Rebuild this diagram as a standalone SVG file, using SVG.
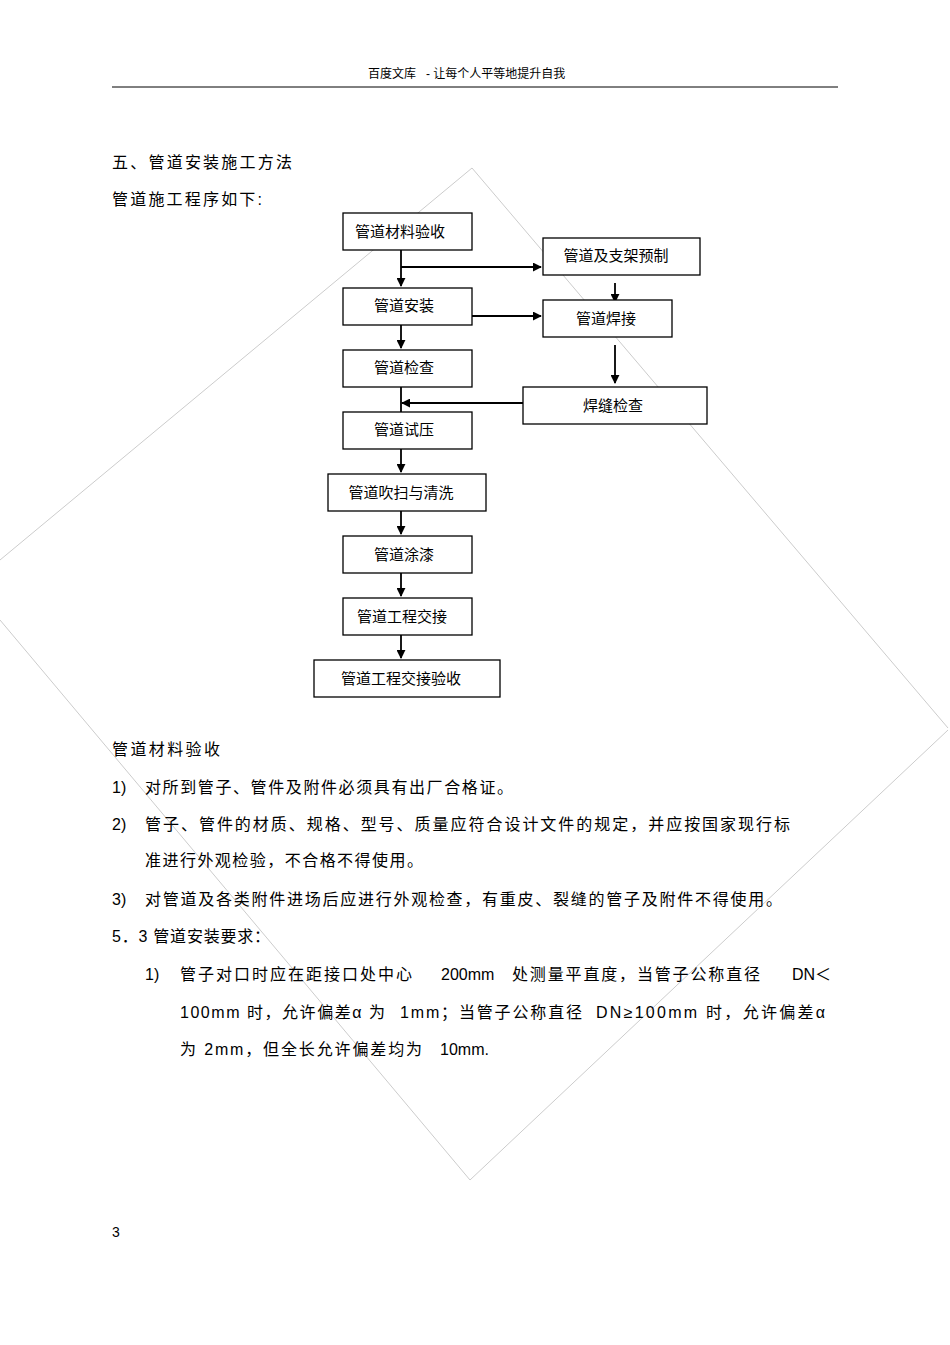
<svg xmlns="http://www.w3.org/2000/svg" width="950" height="1345" viewBox="0 0 950 1345">
<style>
.t{font-family:"Liberation Sans","Noto Sans CJK SC",sans-serif;fill:#000}
.b{font-size:15px}
.p{font-size:16px}
rect{fill:#fff;stroke:#000;stroke-width:1.3}
.c line{stroke:#000;stroke-width:1.8}
</style>
<defs><marker id="a" viewBox="0 0 10 10" refX="9" refY="5" markerWidth="5" markerHeight="5" orient="auto"><path d="M0,0L10,5L0,10z" fill="#000"/></marker></defs>
<rect width="950" height="1345" style="fill:#fff;stroke:none"/>
<g fill="none" stroke="#ccc" stroke-width="1">
<polyline points="0,560 472,168 948,728"/>
<polyline points="0,620 470,1180 948,730"/>
</g>
<text class="t" x="368" y="78" font-size="12" fill="#444">百度文库</text>
<text class="t" x="426" y="78" font-size="12" fill="#444">- 让每个人平等地提升自我</text>
<line x1="112" y1="87" x2="838" y2="87" stroke="#000" stroke-width="1"/>
<text class="t p" x="112" y="168" textLength="180" lengthAdjust="spacing">五、管道安装施工方法</text>
<text class="t p" x="112" y="205" textLength="150" lengthAdjust="spacing">管道施工程序如下:</text>
<g class="c">
<line x1="401" y1="250" x2="401" y2="286" marker-end="url(#a)"/>
<line x1="401" y1="267" x2="541" y2="267" marker-end="url(#a)"/>
<line x1="472" y1="316" x2="541" y2="316" marker-end="url(#a)"/>
<line x1="615" y1="283" x2="615" y2="302" marker-end="url(#a)"/>
<line x1="401" y1="325" x2="401" y2="348" marker-end="url(#a)"/>
<line x1="615" y1="345" x2="615" y2="383" marker-end="url(#a)"/>
<line x1="401" y1="387" x2="401" y2="412"/>
<line x1="523" y1="403" x2="402" y2="403" marker-end="url(#a)"/>
<line x1="401" y1="449" x2="401" y2="472" marker-end="url(#a)"/>
<line x1="401" y1="511" x2="401" y2="534" marker-end="url(#a)"/>
<line x1="401" y1="573" x2="401" y2="596" marker-end="url(#a)"/>
<line x1="401" y1="635" x2="401" y2="658" marker-end="url(#a)"/>
</g>
<g id="n1"><rect x="343" y="213" width="129" height="37"/><text class="t b" x="400" y="237" text-anchor="middle">管道材料验收</text></g>
<g id="n2"><rect x="543" y="238" width="157" height="37"/><text class="t b" x="616" y="261" text-anchor="middle">管道及支架预制</text></g>
<g id="n3"><rect x="343" y="288" width="129" height="37"/><text class="t b" x="404" y="311" text-anchor="middle">管道安装</text></g>
<g id="n4"><rect x="543" y="300" width="129" height="37"/><text class="t b" x="606" y="324" text-anchor="middle">管道焊接</text></g>
<g id="n5"><rect x="343" y="350" width="129" height="37"/><text class="t b" x="404" y="373" text-anchor="middle">管道检查</text></g>
<g id="n6"><rect x="523" y="387" width="184" height="37"/><text class="t b" x="613" y="411" text-anchor="middle">焊缝检查</text></g>
<g id="n7"><rect x="343" y="412" width="129" height="37"/><text class="t b" x="404" y="435" text-anchor="middle">管道试压</text></g>
<g id="n8"><rect x="328" y="474" width="158" height="37"/><text class="t b" x="401" y="498" text-anchor="middle">管道吹扫与清洗</text></g>
<g id="n9"><rect x="343" y="536" width="129" height="37"/><text class="t b" x="404" y="560" text-anchor="middle">管道涂漆</text></g>
<g id="n10"><rect x="343" y="598" width="129" height="37"/><text class="t b" x="402" y="622" text-anchor="middle">管道工程交接</text></g>
<g id="n11"><rect x="314" y="660" width="186" height="37"/><text class="t b" x="401" y="684" text-anchor="middle">管道工程交接验收</text></g>
<g class="t p">
<text x="112" y="755" textLength="108" lengthAdjust="spacing">管道材料验收</text>
<text x="112" y="793">1)</text><text x="145" y="793" textLength="368" lengthAdjust="spacing">对所到管子、管件及附件必须具有出厂合格证。</text>
<text x="112" y="830">2)</text><text x="145" y="830" textLength="645" lengthAdjust="spacing">管子、管件的材质、规格、型号、质量应符合设计文件的规定，并应按国家现行标</text>
<text x="145" y="866" textLength="278" lengthAdjust="spacing">准进行外观检验，不合格不得使用。</text>
<text x="112" y="905">3)</text><text x="145" y="905" textLength="637" lengthAdjust="spacing">对管道及各类附件进场后应进行外观检查，有重皮、裂缝的管子及附件不得使用。</text>
<text x="112" y="942" textLength="158" lengthAdjust="spacing">5．3 管道安装要求：</text>
<text x="145" y="980">1)</text>
<text x="180" y="980" textLength="232" lengthAdjust="spacing">管子对口时应在距接口处中心</text>
<text x="441" y="980">200mm</text>
<text x="512" y="980" textLength="248" lengthAdjust="spacing">处测量平直度，当管子公称直径</text>
<text x="792" y="980">DN＜</text>
<text x="180" y="1018" textLength="205" lengthAdjust="spacing">100mm 时，允许偏差α 为</text>
<text x="400" y="1018" textLength="182" lengthAdjust="spacing">1mm；当管子公称直径</text>
<text x="596" y="1018" textLength="229" lengthAdjust="spacing">DN≥100mm 时，允许偏差α</text>
<text x="180" y="1055" textLength="242" lengthAdjust="spacing">为 2mm，但全长允许偏差均为</text>
<text x="440" y="1055">10mm.</text>
<text x="112" y="1237" font-size="14">3</text>
</g>
</svg>
